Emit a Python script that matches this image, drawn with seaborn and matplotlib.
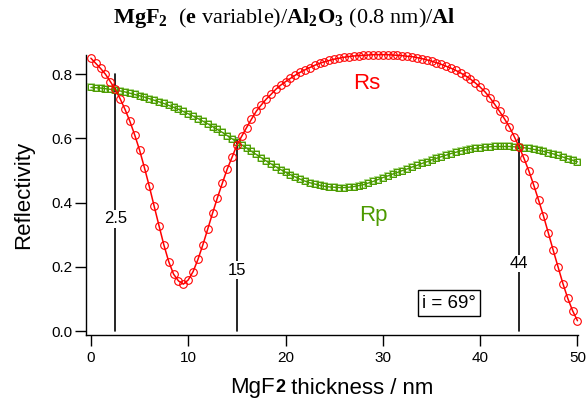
import numpy as np
import pandas as pd
import seaborn as sns
import matplotlib.pyplot as plt

# ==========================================
# DATA
# ==========================================
thickness = np.arange(0, 50.5, 0.5)   # MgF2 thickness, nm (0.5 nm step)

rs_values = [
    0.850, 0.834, 0.818, 0.800, 0.777, 0.753, 0.724, 0.691, 0.654, 0.611,
    0.564, 0.509, 0.451, 0.389, 0.328, 0.268, 0.216, 0.177, 0.156, 0.146,
    0.159, 0.185, 0.223, 0.268, 0.317, 0.367, 0.415, 0.460, 0.504, 0.541,
    0.579, 0.607, 0.634, 0.660, 0.685, 0.704, 0.722, 0.737, 0.753, 0.766,
    0.777, 0.787, 0.797, 0.806, 0.814, 0.821, 0.828, 0.834, 0.839, 0.843,
    0.847, 0.850, 0.853, 0.855, 0.857, 0.858, 0.859, 0.860, 0.861, 0.861,
    0.861, 0.861, 0.860, 0.859, 0.858, 0.856, 0.855, 0.852, 0.849, 0.845,
    0.841, 0.836, 0.831, 0.825, 0.819, 0.812, 0.804, 0.795, 0.785, 0.773,
    0.760, 0.745, 0.727, 0.706, 0.684, 0.661, 0.636, 0.606, 0.574, 0.538,
    0.499, 0.455, 0.408, 0.359, 0.306, 0.252, 0.200, 0.148, 0.102, 0.063,
    0.032,
]

rp_values = [
    0.759, 0.758, 0.757, 0.755, 0.753, 0.751, 0.748, 0.745, 0.741, 0.737,
    0.733, 0.729, 0.724, 0.719, 0.714, 0.709, 0.703, 0.697, 0.691, 0.684,
    0.677, 0.670, 0.662, 0.654, 0.646, 0.637, 0.628, 0.619, 0.609, 0.599,
    0.590, 0.580, 0.570, 0.560, 0.550, 0.540, 0.530, 0.521, 0.512, 0.503,
    0.495, 0.487, 0.480, 0.473, 0.467, 0.462, 0.458, 0.454, 0.451, 0.449,
    0.448, 0.447, 0.447, 0.448, 0.450, 0.453, 0.456, 0.461, 0.466, 0.472,
    0.478, 0.483, 0.489, 0.494, 0.500, 0.505, 0.511, 0.516, 0.522, 0.527,
    0.533, 0.538, 0.543, 0.548, 0.553, 0.557, 0.561, 0.564, 0.567, 0.569,
    0.571, 0.573, 0.574, 0.575, 0.575, 0.575, 0.575, 0.574, 0.573, 0.571,
    0.569, 0.566, 0.563, 0.560, 0.556, 0.552, 0.547, 0.542, 0.537, 0.532,
    0.527,
]

# vertical marker lines: position, top of line, label height
mark_x = [2.5, 15, 44]
mark_top = [0.80, 0.60, 0.60]
mark_label_y = [0.35, 0.19, 0.21]
mark_labels = ["2.5", "15", "44"]

x_ticks = [0, 10, 20, 30, 40, 50]
y_ticks = [0.0, 0.2, 0.4, 0.6, 0.8]

df = pd.DataFrame({"thickness": thickness, "Rs": rs_values, "Rp": rp_values})

# ==========================================
# THEME
# ==========================================
sns.set_theme(style="ticks")
plt.rcParams['font.family'] = ['Liberation Sans', 'DejaVu Sans']
plt.rcParams['text.color'] = 'black'
plt.rcParams['axes.labelcolor'] = 'black'
plt.rcParams['mathtext.fontset'] = 'custom'
plt.rcParams['mathtext.rm'] = 'Liberation Serif'
plt.rcParams['mathtext.bf'] = 'Liberation Serif:bold'

red = '#ff0000'
green_dark = '#4c9a00'
green_light = '#a8d884'

fig = plt.figure(figsize=(5.86, 4.03), dpi=100)
ax = fig.add_axes([0.1468, 0.1687, 0.8395, 0.6948])

# Rs: red line with open circles
sns.lineplot(data=df, x="thickness", y="Rs", ax=ax, color=red, linewidth=1.1,
             marker='o', markersize=5.5, markerfacecolor='none',
             markeredgecolor=red, markeredgewidth=0.8, zorder=3, clip_on=False)

# Rp: green line with open squares (light halo + dark outline)
sns.lineplot(data=df, x="thickness", y="Rp", ax=ax, color=green_light, linewidth=0,
             marker='s', markersize=4.6, markerfacecolor='none',
             markeredgecolor=green_light, markeredgewidth=1.3, zorder=2, clip_on=False)
sns.lineplot(data=df, x="thickness", y="Rp", ax=ax, color=green_dark, linewidth=1.0,
             marker='s', markersize=4.0, markerfacecolor='none',
             markeredgecolor=green_dark, markeredgewidth=0.7, zorder=2, clip_on=False)

# vertical reference lines with labels
for xv, top, ly, lab in zip(mark_x, mark_top, mark_label_y, mark_labels):
    ax.plot([xv, xv], [0, top], color='black', linewidth=1.2, zorder=1)
    ax.text(xv, ly, lab, ha='center', va='center', fontsize=12,
            bbox=dict(facecolor='white', edgecolor='none', pad=1.0), zorder=4)

ax.text(28.3, 0.77, "Rs", color=red, fontsize=16, ha='center', va='center')
ax.text(29.0, 0.36, "Rp", color=green_dark, fontsize=16, ha='center', va='center')
ax.text(36.8, 0.087, "i = 69°", fontsize=13.5, ha='center', va='center',
        bbox=dict(facecolor='white', edgecolor='black', linewidth=1, pad=3))

# axes
ax.set_xlim(-0.5, 50.05)
ax.set_ylim(-0.0125, 0.86)
ax.set_xticks(x_ticks)
ax.set_yticks(y_ticks)
ax.set_yticklabels([f"{v:.1f}" for v in y_ticks])
ax.tick_params(direction='out', length=8, width=1, labelsize=11, colors='black')
ax.tick_params(axis='y', pad=2)
sns.despine(ax=ax)
for side in ['left', 'bottom']:
    ax.spines[side].set_color('black')
    ax.spines[side].set_linewidth(1)

ax.set_xlabel("")
ax.set_ylabel("Reflectivity", fontsize=16, labelpad=12)

# x label: "MgF" + bold "2" + " thickness / nm", pieces laid side by side
renderer = fig.canvas.get_renderer()
label_y = 1 - 388 / 403
parts = [("MgF", 16, 'normal'), ("2", 13, 'bold'), (" thickness / nm", 16, 'normal')]
texts = [fig.text(0, label_y, s, fontsize=fs, fontweight=fw, ha='left', va='center')
         for s, fs, fw in parts]
widths = [t.get_window_extent(renderer).width for t in texts]
x0 = 332 - sum(widths) / 2
for t, w in zip(texts, widths):
    t.set_x(x0 / 586)
    x0 += w

fig.suptitle(r"$\mathbf{MgF}_{\mathbf{2}}$  ($\mathbf{e}$ variable)/$\mathbf{Al}_{\mathbf{2}}\mathbf{O}_{\mathbf{3}}$ (0.8 nm)/$\mathbf{Al}$",
             fontsize=16, y=0.985, x=0.4855, fontfamily='Liberation Serif')

fig.savefig("out.png", dpi=100)
